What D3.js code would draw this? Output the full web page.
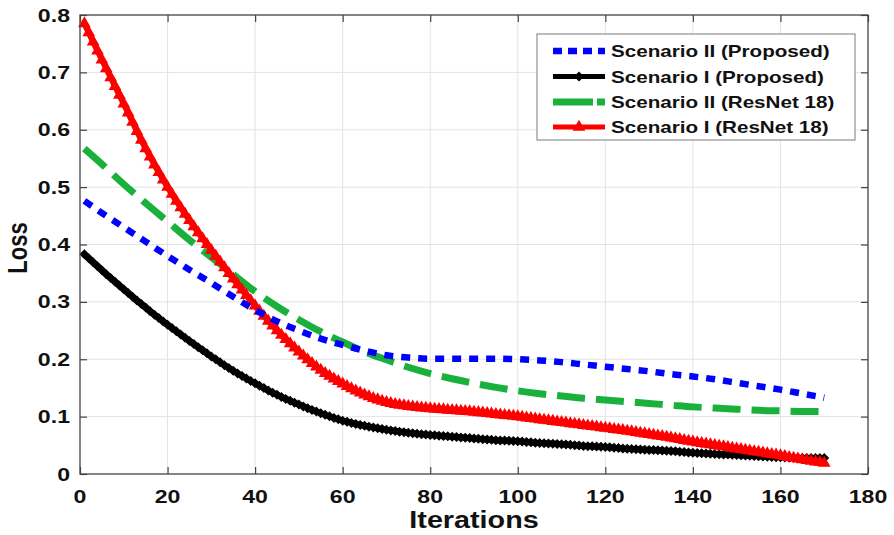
<!DOCTYPE html>
<html>
<head>
<meta charset="utf-8">
<script src="https://cdn.jsdelivr.net/npm/d3@7/dist/d3.min.js"></script>
<style>
  html,body{margin:0;padding:0;background:#fff;}
  svg{display:block;}
  text{font-family:"Liberation Sans",Arial,Helvetica,sans-serif;font-weight:bold;fill:#111;}
</style>
</head>
<body>
<svg id="chart" width="894" height="535"></svg>
<script>
// ---- data ----
const iterations = [1,5,10,15,20,25,30,35,40,45,50,55,60,65,70,75,80,85,90,95,100,105,110,115,120,125,130,135,140,145,150,155,160,165,170];
const lossScenario2Proposed = [0.476,0.455,0.430,0.405,0.380,0.356,0.333,0.309,0.286,0.266,0.250,0.236,0.225,0.215,0.207,0.203,0.201,0.201,0.201,0.201,0.200,0.198,0.195,0.191,0.187,0.183,0.179,0.174,0.170,0.165,0.159,0.153,0.147,0.140,0.133];
const lossScenario1Proposed = [0.383,0.355,0.322,0.290,0.260,0.232,0.205,0.180,0.158,0.138,0.121,0.106,0.093,0.084,0.077,0.072,0.068,0.065,0.062,0.059,0.057,0.054,0.052,0.049,0.047,0.044,0.042,0.040,0.037,0.035,0.033,0.031,0.029,0.028,0.028];
const lossScenario2ResNet = [0.567,0.540,0.505,0.472,0.440,0.408,0.378,0.348,0.318,0.292,0.269,0.248,0.230,0.213,0.199,0.186,0.175,0.166,0.158,0.151,0.145,0.140,0.136,0.132,0.129,0.126,0.123,0.120,0.117,0.115,0.113,0.111,0.110,0.109,0.109];
const lossScenario1ResNet = [0.785,0.722,0.645,0.567,0.500,0.442,0.390,0.340,0.293,0.250,0.213,0.181,0.157,0.138,0.125,0.118,0.114,0.111,0.108,0.104,0.100,0.095,0.090,0.085,0.080,0.075,0.069,0.063,0.056,0.050,0.044,0.038,0.032,0.025,0.019];
const seriesNames = ["Scenario II (Proposed)","Scenario I (Proposed)","Scenario II (ResNet 18)","Scenario I (ResNet 18)"];
const xTickValues = [0,20,40,60,80,100,120,140,160,180];
const xTickLabels = ["0","20","40","60","80","100","120","140","160","180"];
const yTickValues = [0,0.1,0.2,0.3,0.4,0.5,0.6,0.7,0.8];
const yTickLabels = ["0","0.1","0.2","0.3","0.4","0.5","0.6","0.7","0.8"];
const xTitle = "Iterations";
const yTitle = "Loss";

// ---- layout ----
const L = 80, R = 868, T = 15, B = 474;
const SX = 1.25; // horizontal stretch of text in reference
const svg = d3.select("#chart");
const x = d3.scaleLinear().domain([0,180]).range([L,R]);
const y = d3.scaleLinear().domain([0,0.8]).range([B,T]);

// grid
const grid = svg.append("g");
grid.selectAll("line.gx").data(xTickValues.slice(1,-1)).join("line")
  .attr("x1",d=>x(d)).attr("x2",d=>x(d)).attr("y1",T).attr("y2",B)
  .attr("stroke","#e3e3e3").attr("stroke-width",1);
grid.selectAll("line.gy").data(yTickValues.slice(1,-1)).join("line")
  .attr("y1",d=>y(d)).attr("y2",d=>y(d)).attr("x1",L).attr("x2",R)
  .attr("stroke","#e3e3e3").attr("stroke-width",1);

// axes ticks (inward), all four sides
function styleAxis(g){ g.select(".domain").remove(); g.selectAll("text").remove();
  g.selectAll("line").attr("stroke","#444").attr("stroke-width",1.2); }
svg.append("g").attr("transform",`translate(0,${B})`).call(d3.axisBottom(x).tickValues(xTickValues).tickSize(-7)).call(styleAxis);
svg.append("g").attr("transform",`translate(0,${T})`).call(d3.axisTop(x).tickValues(xTickValues).tickSize(-7)).call(styleAxis);
svg.append("g").attr("transform",`translate(${L},0)`).call(d3.axisLeft(y).tickValues(yTickValues).tickSize(-7)).call(styleAxis);
svg.append("g").attr("transform",`translate(${R},0)`).call(d3.axisRight(y).tickValues(yTickValues).tickSize(-7)).call(styleAxis);

// tick labels
svg.selectAll("text.xt").data(xTickValues).join("text")
  .attr("transform",(d)=>`translate(${x(d)},503) scale(${SX},1)`)
  .attr("text-anchor","middle").attr("font-size",18.5).text((d,i)=>xTickLabels[i]);
svg.selectAll("text.yt").data(yTickValues).join("text")
  .attr("transform",(d)=>`translate(70,${y(d)+6.6}) scale(${SX},1)`)
  .attr("text-anchor","end").attr("font-size",18.5).text((d,i)=>yTickLabels[i]);

// titles
svg.append("text").attr("transform",`translate(474,528) scale(${SX},1)`)
  .attr("text-anchor","middle").attr("font-size",23).text(xTitle);
svg.append("text").attr("transform",`translate(27,248) scale(${SX},1) rotate(-90)`)
  .attr("text-anchor","middle").attr("font-size",22).text(yTitle);

// ---- series ----
const plot = svg.append("g");
const line = d3.line().x(d=>x(d[0])).y(d=>y(d[1])).curve(d3.curveMonotoneX);
const zip = vals => iterations.map((it,i)=>[it,vals[i]]);

function diamondPath(r){ return `M0,${-r}L${r},0L0,${r}L${-r},0Z`; }
const trianglePath = d3.symbol(d3.symbolTriangle, 70)();

// place markers along the drawn path at each iteration step in x
function addMarkers(pathNode, shape, color){
  const len = pathNode.getTotalLength();
  const pts = [];
  for(let s=0;s<=len;s+=0.5){ const p = pathNode.getPointAtLength(s); pts.push([p.x,p.y]); }
  const step = x(1)-x(0);
  const xs = d3.range(x(iterations[0]), x(iterations[iterations.length-1])+0.01, step);
  const bis = d3.bisector(p=>p[0]).left;
  const mpts = xs.map(px=>{ const i = Math.min(Math.max(bis(pts,px),1),pts.length-1);
    const a=pts[i-1], b=pts[i]; const t = b[0]===a[0]?0:(px-a[0])/(b[0]-a[0]);
    return [px, a[1]+t*(b[1]-a[1])]; });
  plot.append("g").selectAll("path").data(mpts).join("path")
    .attr("d",shape).attr("transform",p=>`translate(${p[0]},${p[1]})`).attr("fill",color);
}

const blackPath = plot.append("path").datum(zip(lossScenario1Proposed)).attr("d",line)
  .attr("fill","none").attr("stroke","#000").attr("stroke-width",6);
addMarkers(blackPath.node(), diamondPath(5), "#000");

plot.append("path").datum(zip(lossScenario2ResNet)).attr("d",line)
  .attr("fill","none").attr("stroke","#19b13b").attr("stroke-width",7).attr("stroke-dasharray","28,11");

const redPath = plot.append("path").datum(zip(lossScenario1ResNet)).attr("d",line)
  .attr("fill","none").attr("stroke","#ff0000").attr("stroke-width",6);
addMarkers(redPath.node(), trianglePath, "#ff0000");

plot.append("path").datum(zip(lossScenario2Proposed)).attr("d",line)
  .attr("fill","none").attr("stroke","#0000ff").attr("stroke-width",6.5).attr("stroke-dasharray","9,8");

// plot box
svg.append("rect").attr("x",L).attr("y",T).attr("width",R-L).attr("height",B-T)
  .attr("fill","none").attr("stroke","#444").attr("stroke-width",1.3);

// ---- legend ----
const lg = svg.append("g");
lg.append("rect").attr("x",537).attr("y",34).attr("width",318).attr("height",106)
  .attr("fill","#fff").attr("stroke","#7a7a7a").attr("stroke-width",1);
const legendStyles = [
  {color:"#0000ff", w:6.5, dash:"9,6", marker:null},
  {color:"#000", w:5, dash:null, marker:diamondPath(5)},
  {color:"#19b13b", w:7, dash:"40,4", marker:null},
  {color:"#ff0000", w:5, dash:null, marker:trianglePath}
];
const rowY = [51,76.5,102,127];
seriesNames.forEach((name,i)=>{
  const st = legendStyles[i];
  const ln = lg.append("line").attr("x1",553).attr("x2",605).attr("y1",rowY[i]).attr("y2",rowY[i])
    .attr("stroke",st.color).attr("stroke-width",st.w);
  if(st.dash) ln.attr("stroke-dasharray",st.dash);
  if(st.marker) lg.append("path").attr("d",st.marker).attr("transform",`translate(579,${rowY[i]})`).attr("fill",st.color);
  lg.append("text").attr("transform",`translate(611,${rowY[i]+6}) scale(${SX},1)`)
    .attr("font-size",16.5).text(name);
});
</script>
</body>
</html>
